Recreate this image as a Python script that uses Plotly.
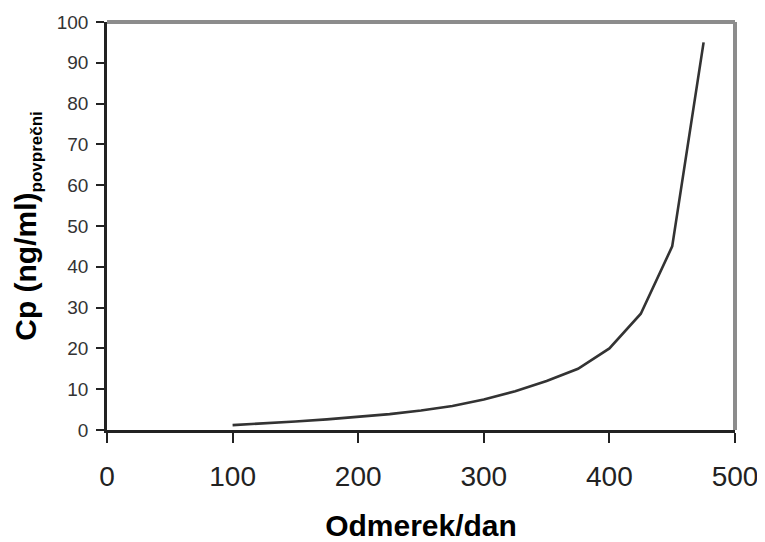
import plotly.graph_objects as go

dose = [100, 125, 150, 175, 200, 225, 250, 275, 300, 325, 350, 375, 400, 425, 450, 475]
cp_mean = [1.2, 1.6, 2.1, 2.6, 3.2, 3.9, 4.8, 5.9, 7.5, 9.5, 12.0, 15.0, 20.0, 28.5, 45.0, 95.0]

x_ticks = [0, 100, 200, 300, 400, 500]
y_ticks = [0, 10, 20, 30, 40, 50, 60, 70, 80, 90, 100]

FONT = "Liberation Sans, Arial, sans-serif"

fig = go.Figure()
fig.add_trace(go.Scatter(
    x=dose, y=cp_mean, mode="lines",
    line=dict(color="#333333", width=2.6),
    showlegend=False, hoverinfo="skip",
))

# gray frame on top and right
fig.add_shape(type="line", xref="x domain", yref="y domain", x0=0, x1=1, y0=1, y1=1,
              line=dict(color="#8c8c8c", width=4), layer="below")
fig.add_shape(type="line", xref="x domain", yref="y domain", x0=1, x1=1, y0=0, y1=1,
              line=dict(color="#8c8c8c", width=4), layer="below")

# page body has an 8px margin, so the figure is sized/offset to compensate
fig.update_layout(
    width=757, height=534,
    margin=dict(l=99, r=30, t=14, b=112),
    paper_bgcolor="white", plot_bgcolor="white",
    font=dict(family=FONT, color="#333333"),
    xaxis=dict(
        range=[0, 500], tickvals=x_ticks, ticktext=[str(v) for v in x_ticks],
        showgrid=False, zeroline=False, automargin=False,
        showline=True, linecolor="#222222", linewidth=2.5,
        ticks="outside", ticklen=10, tickwidth=2, tickcolor="#222222",
        tickfont=dict(size=28, color="#222222", family=FONT),
        ticklabelstandoff=10,
        title=dict(text="<b>Odmerek/dan</b>", font=dict(size=30, color="#000000", family=FONT),
                   standoff=25),
    ),
    yaxis=dict(
        range=[0, 100], tickvals=y_ticks, ticktext=[str(v) for v in y_ticks],
        showgrid=False, zeroline=False, automargin=False,
        showline=True, linecolor="#222222", linewidth=2.5,
        ticks="outside", ticklen=8, tickwidth=2, tickcolor="#222222",
        tickfont=dict(size=19, color="#333333", family=FONT),
        ticklabelstandoff=4,
        title=dict(text="<b>Cp (ng/ml)<sub><span style=\"font-size:17px\">povprečni</span></sub></b>",
                   font=dict(size=30, color="#000000", family=FONT), standoff=12),
    ),
)

fig.write_html("out.html")
